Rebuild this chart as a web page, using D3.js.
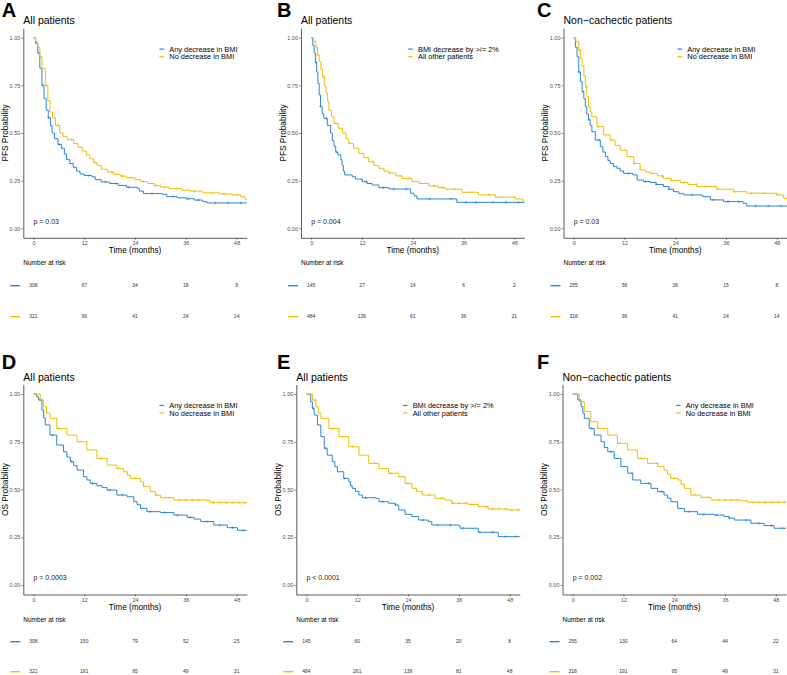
<!DOCTYPE html>
<html>
<head>
<meta charset="utf-8">
<title>BMI change and survival</title>
<script src="https://cdn.jsdelivr.net/npm/d3@7"></script>
<style>
  body { margin: 0; background: #fff; }
  svg { font-family: "Liberation Sans", Arial, Helvetica, sans-serif; }
</style>
</head>
<body>
<svg id="chart" width="787" height="675"></svg>
<script>
// ---- data ----
const timeBreaks = [0, 12, 24, 36, 48];
const probBreaks = [0, 0.25, 0.5, 0.75, 1];

const panelLetters = ['A', 'B', 'C', 'D', 'E', 'F'];
const panelTitles = ['All patients', 'All patients', 'Non\u2212cachectic patients',
                     'All patients', 'All patients', 'Non\u2212cachectic patients'];
const yTitles = ['PFS Probability', 'PFS Probability', 'PFS Probability',
                 'OS Probability', 'OS Probability', 'OS Probability'];
const pValues = ['p = 0.03', 'p = 0.004', 'p = 0.03', 'p = 0.0003', 'p < 0.0001', 'p = 0.002'];

const labelsAny = ['Any decrease in BMI', 'No decrease in BMI'];
const labelsTwo = ['BMI decrease by >/= 2%', 'All other patients'];
const legendLabels = [labelsAny, labelsTwo, labelsAny, labelsAny, labelsTwo, labelsAny];

// number at risk at 0, 12, 24, 36, 48 months
const riskBlue = [
  [308, 67, 34, 18, 9], [145, 27, 14, 6, 2], [255, 56, 36, 15, 8],
  [308, 150, 79, 52, 25], [145, 60, 35, 20, 8], [255, 130, 64, 44, 22]
];
const riskYellow = [
  [321, 96, 41, 24, 14], [484, 136, 61, 36, 21], [318, 96, 41, 24, 14],
  [321, 191, 95, 49, 31], [484, 261, 139, 81, 48], [318, 191, 95, 49, 31]
];

// Kaplan-Meier steps [month, survival]
const pfsAllBlue = [[0,1],[0.5,0.97],[1,0.92],[1.5,0.84],[2,0.75],[2.5,0.68],[3,0.62],[3.5,0.58],[4,0.54],[4.4,0.5],[5,0.47],[5.8,0.44],[6.6,0.42],[7.3,0.39],[7.8,0.36],[8.6,0.34],[9.4,0.32],[10.2,0.3],[11,0.285],[12,0.277],[13.8,0.27],[14.6,0.255],[16,0.243],[18,0.235],[20,0.225],[22,0.215],[24.5,0.21],[25,0.195],[26,0.182],[30.5,0.178],[31.5,0.166],[34,0.16],[36,0.155],[38,0.148],[40,0.14],[41,0.133],[50.4,0.133]];
const pfsAllYellow = [[0,1],[0.5,0.98],[1,0.95],[1.5,0.9],[2,0.84],[2.8,0.75],[3.4,0.67],[3.9,0.61],[4.5,0.58],[5.2,0.54],[6.2,0.5],[7,0.48],[8,0.465],[9.5,0.445],[10.5,0.425],[11.5,0.405],[12.5,0.385],[13.3,0.365],[14.2,0.345],[15,0.33],[16,0.31],[17.5,0.295],[19,0.283],[20.5,0.274],[22,0.265],[24,0.255],[25.3,0.245],[27,0.235],[28.5,0.225],[30,0.216],[32,0.208],[35,0.2],[37,0.195],[40,0.186],[44,0.18],[47,0.175],[49,0.165],[50,0.15],[50.4,0.15]];
const pfsTwoBlue = [[0,1],[0.4,0.96],[0.7,0.92],[1,0.87],[1.3,0.82],[1.6,0.76],[1.9,0.7],[2.2,0.64],[2.6,0.6],[3,0.577],[3.8,0.54],[4.6,0.5],[5,0.46],[5.4,0.43],[5.8,0.4],[6.3,0.385],[7,0.36],[7.3,0.33],[7.6,0.3],[7.9,0.28],[9.7,0.27],[10.5,0.258],[12.1,0.245],[13.2,0.235],[14.4,0.227],[16,0.213],[18.4,0.206],[23.2,0.206],[23.5,0.184],[24.3,0.17],[25,0.154],[34.2,0.154],[34.4,0.136],[50.4,0.136]];
const pfsTwoYellow = [[0,1],[0.5,0.98],[1.1,0.95],[1.5,0.91],[1.9,0.875],[2.3,0.835],[2.7,0.795],[3.1,0.75],[3.5,0.71],[3.9,0.665],[4.2,0.62],[4.8,0.585],[5.4,0.55],[6.4,0.525],[7.4,0.5],[8.2,0.47],[8.9,0.446],[10,0.42],[11.3,0.393],[12.5,0.37],[13.6,0.35],[14.8,0.33],[16,0.315],[17.2,0.3],[18.4,0.29],[20,0.275],[21.5,0.262],[23.8,0.245],[25.5,0.235],[27.8,0.222],[30,0.213],[31.7,0.205],[35.6,0.189],[39.5,0.175],[43.5,0.163],[48.2,0.154],[50,0.143],[50.4,0.143]];
const pfsNonBlue = [[0,1],[0.4,0.95],[0.8,0.9],[1.2,0.82],[1.6,0.77],[2,0.717],[2.4,0.68],[2.75,0.64],[3.1,0.6],[3.5,0.57],[3.9,0.54],[4.3,0.507],[5.1,0.463],[6.3,0.428],[6.9,0.4],[7.5,0.376],[8.1,0.355],[8.65,0.34],[9.4,0.325],[10.2,0.315],[11,0.3],[11.8,0.288],[14,0.28],[15,0.253],[16.5,0.245],[18.1,0.24],[19.5,0.23],[21.2,0.219],[22.5,0.205],[23.6,0.192],[24.8,0.183],[26,0.175],[30.5,0.166],[32.3,0.149],[35.4,0.14],[40,0.131],[40.9,0.117],[50.4,0.117]];
const pfsNonYellow = [[0,1],[0.5,0.98],[1.2,0.935],[1.6,0.89],[2,0.85],[2.4,0.8],[2.75,0.743],[3.1,0.69],[3.5,0.64],[3.9,0.61],[4.3,0.585],[5.5,0.533],[7.1,0.49],[8.65,0.463],[9.8,0.435],[11,0.41],[12.6,0.376],[14.2,0.34],[15.7,0.306],[17,0.295],[18.1,0.288],[19.8,0.275],[21.2,0.262],[23,0.25],[25.2,0.24],[27,0.23],[29.1,0.219],[33.8,0.205],[37.8,0.192],[40.9,0.184],[48,0.175],[49.6,0.157],[50.4,0.15]];
const osAllBlue = [[0,1],[0.8,0.985],[1.2,0.969],[2,0.916],[2.4,0.875],[2.8,0.838],[3.9,0.785],[5.5,0.733],[7.1,0.698],[7.9,0.67],[8.7,0.646],[9.5,0.625],[10.3,0.602],[11.8,0.567],[12.6,0.55],[13.4,0.532],[15,0.52],[16.2,0.51],[17.4,0.497],[19.7,0.471],[22.1,0.462],[23.7,0.436],[24.5,0.42],[25.3,0.401],[26.8,0.384],[30,0.379],[33.2,0.366],[36.3,0.354],[38,0.345],[39.5,0.332],[42.6,0.314],[45.8,0.3],[48.2,0.286],[50.4,0.286]];
const osAllYellow = [[0,1],[1.6,0.969],[2.4,0.934],[3.1,0.9],[3.9,0.873],[5.5,0.82],[7.9,0.785],[10.3,0.75],[12.6,0.707],[15,0.663],[17.4,0.628],[19.7,0.61],[21.3,0.593],[22.2,0.575],[22.9,0.558],[25.3,0.541],[26,0.515],[27.6,0.489],[28.8,0.47],[30,0.457],[33.2,0.445],[41,0.441],[41.8,0.431],[50.4,0.431]];
const osTwoBlue = [[0,1],[1,0.96],[1.4,0.925],[1.8,0.89],[2.6,0.838],[3.4,0.777],[4.2,0.716],[4.9,0.68],[6.1,0.646],[6.7,0.62],[7.3,0.593],[8.8,0.558],[10,0.541],[10.4,0.52],[10.8,0.506],[11.6,0.49],[12.4,0.471],[13.2,0.457],[16.3,0.454],[17.1,0.436],[19.4,0.428],[21,0.419],[21.8,0.393],[23.3,0.37],[24.9,0.358],[26.5,0.34],[28.8,0.332],[29.6,0.314],[35.9,0.311],[36.3,0.297],[40.4,0.297],[40.6,0.276],[45,0.276],[45.3,0.253],[50.4,0.253]];
const osTwoYellow = [[0,1],[1.4,0.969],[2.2,0.934],[2.8,0.9],[3.4,0.873],[5.3,0.82],[7.7,0.777],[10,0.724],[12.4,0.68],[14.7,0.637],[17.1,0.61],[19.4,0.585],[21.8,0.567],[23.3,0.532],[24.9,0.506],[26,0.49],[27.3,0.471],[30.4,0.454],[32.7,0.445],[34.3,0.428],[38.2,0.422],[40.6,0.41],[42.9,0.398],[47.6,0.393],[50.4,0.39]];
const osNonBlue = [[0,1],[1.2,0.969],[2,0.934],[2.4,0.9],[2.75,0.873],[3.9,0.82],[5.1,0.785],[6.7,0.75],[7.5,0.72],[8.3,0.698],[9.8,0.663],[11.4,0.62],[13,0.585],[14.2,0.55],[16.1,0.532],[18.5,0.506],[20.1,0.489],[21.6,0.471],[22.4,0.455],[23.2,0.436],[24.8,0.401],[26.4,0.384],[29.5,0.37],[33.4,0.366],[35.8,0.358],[37,0.35],[38.2,0.34],[42.1,0.323],[45.2,0.311],[47.6,0.297],[50.4,0.297]];
const osNonYellow = [[0,1],[1.6,0.96],[2.75,0.908],[4.3,0.855],[5.9,0.82],[8.3,0.785],[10.6,0.742],[13,0.707],[15.3,0.663],[17.7,0.637],[20.1,0.62],[21.6,0.602],[22.4,0.58],[23.2,0.558],[24.8,0.55],[25.6,0.528],[26.4,0.506],[27.9,0.471],[30.3,0.459],[32.7,0.445],[39.7,0.441],[41.3,0.433],[50.4,0.433]];

// censoring marks (months), estimated
const censorPfsBlue = [1.2, 2.2, 3.6, 6, 13, 17, 19.5, 22.5, 28, 33, 36.5, 39, 43, 46, 49];
const censorPfsYellow = [1.5, 3, 5.8, 9, 14.5, 18.5, 21, 23, 26, 29, 31, 34, 38, 42, 45, 48];
const censorOsBlue = [1.6, 4.5, 9, 14, 18, 21, 27.5, 31, 34, 37, 41, 44, 47, 49.5];
const censorOsYellow = [2, 6, 11, 16, 20, 24, 29, 32, 34.5, 36, 37.5, 39, 42.5, 44, 45.5, 47, 48.5, 50];

const curvesBlue = [pfsAllBlue, pfsTwoBlue, pfsNonBlue, osAllBlue, osTwoBlue, osNonBlue];
const curvesYellow = [pfsAllYellow, pfsTwoYellow, pfsNonYellow, osAllYellow, osTwoYellow, osNonYellow];

// ---- layout ----
const blue = '#2a86d8';
const yellow = '#f2bd00';
const plotW = 223.5;
const plotLeft = [23.3, 301, 563.5, 23.3, 296.3, 562.5];
const letterX = [1.7, 277, 537, 1.7, 277, 537];
const legendX = [169.3, 418, 687.3, 169.3, 412.7, 685.7];
const rowTop = [28.2, 384.5];
const rowBottom = [237.8, 594.5];
const letterY = [16.7, 369.3];
const titleY = [24, 381];
const riskY = [[262.3, 285.7, 316.7], [620, 641.7, 671.7]];

const svg = d3.select('#chart');

panelLetters.forEach((letter, i) => {
  const row = i < 3 ? 0 : 1;
  const L = plotLeft[i];
  const x = d3.scaleLinear([-2.4, 50.4], [L, L + plotW]);
  const y = d3.scaleLinear([-0.05, 1.05], [rowBottom[row], rowTop[row]]);
  const g = svg.append('g');

  // panel letter and title
  g.append('text').attr('x', letterX[i]).attr('y', letterY[row])
    .attr('font-size', 20).attr('font-weight', 'bold').text(letter);
  g.append('text').attr('x', L).attr('y', titleY[row])
    .attr('font-size', 10.5).text(panelTitles[i]);

  // axes
  const yAxis = g.append('g').attr('transform', `translate(${L},0)`)
    .call(d3.axisLeft(y).tickValues(probBreaks).tickFormat(d3.format('.2f'))
      .tickSize(2).tickSizeOuter(0).tickPadding(1));
  const xAxis = g.append('g').attr('transform', `translate(0,${rowBottom[row]})`)
    .call(d3.axisBottom(x).tickValues(timeBreaks).tickSize(2).tickSizeOuter(0).tickPadding(1.5));
  [yAxis, xAxis].forEach(a => {
    a.select('.domain').attr('stroke', '#333').attr('stroke-width', 0.8);
    a.selectAll('.tick line').attr('stroke', '#333').attr('stroke-width', 0.6);
    a.selectAll('.tick text').attr('fill', '#4d4d4d').attr('font-size', 5.5)
      .attr('font-family', '"Liberation Sans", Arial, sans-serif');
  });

  g.append('text')
    .attr('transform', `translate(${L - 18.3},${(rowTop[row] + rowBottom[row]) / 2}) rotate(-90)`)
    .attr('text-anchor', 'middle').attr('dy', '0.35em').attr('font-size', 8.3)
    .text(yTitles[i]);
  g.append('text').attr('x', (L + L + plotW) / 2).attr('y', rowBottom[row] + 15)
    .attr('text-anchor', 'middle').attr('font-size', 8.2).text('Time (months)');

  // curves
  const line = d3.line().x(d => x(d[0])).y(d => y(d[1])).curve(d3.curveStepAfter);
  const bis = d3.bisector(d => d[0]).right;
  const series = [
    [curvesBlue[i], blue, row ? censorOsBlue : censorPfsBlue],
    [curvesYellow[i], yellow, row ? censorOsYellow : censorPfsYellow]
  ];
  series.forEach(([pts, col, cens]) => {
    g.append('path').attr('d', line(pts)).attr('fill', 'none')
      .attr('stroke', col).attr('stroke-width', 1);
    g.append('g').selectAll('path').data(cens).join('path')
      .attr('d', t => {
        const cx = x(t), cy = y(pts[Math.max(0, bis(pts, t) - 1)][1]);
        return `M${cx - 1.3},${cy}H${cx + 1.3}M${cx},${cy - 1.3}V${cy + 1.3}`;
      })
      .attr('stroke', col).attr('stroke-width', 0.6);
  });

  // legend
  const lg = g.append('g').attr('font-size', 7.4);
  [blue, yellow].forEach((col, k) => {
    const ly = rowTop[row] + 20.9 + k * 7.6;
    const lx = legendX[i];
    lg.append('line').attr('x1', lx - 10).attr('x2', lx - 5).attr('y1', ly).attr('y2', ly)
      .attr('stroke', col).attr('stroke-width', 1);
    lg.append('line').attr('x1', lx - 7.5).attr('x2', lx - 7.5).attr('y1', ly - 1).attr('y2', ly + 1)
      .attr('stroke', col).attr('stroke-width', 0.6);
    lg.append('text').attr('x', lx).attr('y', ly).attr('dy', '0.35em').text(legendLabels[i][k]);
  });

  // p value
  g.append('text').attr('x', x(0)).attr('y', y(0) - 4.5).attr('font-size', 7)
    .attr('fill', '#222').text(pValues[i]);

  // number at risk table
  g.append('text').attr('x', L).attr('y', riskY[row][0]).attr('dy', '0.35em')
    .attr('font-size', 6.5).text('Number at risk');
  [[riskBlue[i], blue], [riskYellow[i], yellow]].forEach(([vals, col], k) => {
    const ry = riskY[row][k + 1];
    g.append('line').attr('x1', L - 13).attr('x2', L - 3).attr('y1', ry).attr('y2', ry)
      .attr('stroke', col).attr('stroke-width', 1.4);
    g.append('g').selectAll('text').data(vals).join('text')
      .attr('x', (d, j) => x(timeBreaks[j])).attr('y', ry).attr('dy', '0.35em')
      .attr('text-anchor', 'middle').attr('font-size', 5).attr('fill', '#333')
      .text(d => d);
  });
});
</script>
</body>
</html>
